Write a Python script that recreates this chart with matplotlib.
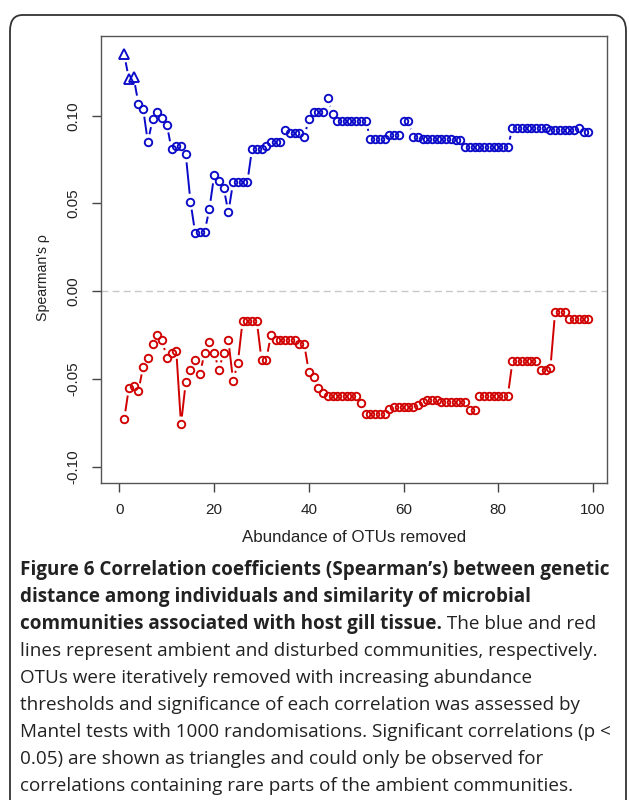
import numpy as np
import matplotlib
matplotlib.use("Agg")
import matplotlib.pyplot as plt
from matplotlib.patches import FancyBboxPatch

# --- data ---
x_removed = list(range(1, 100))

ambient = [
    0.135, 0.121, 0.122, 0.107, 0.104, 0.085, 0.098, 0.102, 0.099, 0.095,
    0.081, 0.083, 0.083, 0.078, 0.051, 0.033, 0.034, 0.034, 0.047, 0.066,
    0.063, 0.059, 0.045, 0.062, 0.062, 0.062, 0.062, 0.081, 0.081, 0.081,
    0.083, 0.085, 0.085, 0.085, 0.092, 0.090, 0.090, 0.090, 0.088, 0.098,
    0.102, 0.102, 0.102, 0.110, 0.101, 0.097, 0.097, 0.097, 0.097, 0.097,
    0.097, 0.097, 0.087, 0.087, 0.087, 0.087, 0.089, 0.089, 0.089, 0.097,
    0.097, 0.088, 0.088, 0.087, 0.087, 0.087, 0.087, 0.087, 0.087, 0.087,
    0.086, 0.086, 0.082, 0.082, 0.082, 0.082, 0.082, 0.082, 0.082, 0.082,
    0.082, 0.082, 0.093, 0.093, 0.093, 0.093, 0.093, 0.093, 0.093, 0.093,
    0.092, 0.092, 0.092, 0.092, 0.092, 0.092, 0.093, 0.091, 0.091,
]
ambient_signif = [1, 2, 3]  # p < 0.05 -> triangles

disturbed = [
    -0.073, -0.055, -0.054, -0.057, -0.043, -0.038, -0.030, -0.025, -0.028, -0.038,
    -0.035, -0.034, -0.076, -0.052, -0.045, -0.039, -0.047, -0.035, -0.029, -0.035,
    -0.045, -0.035, -0.028, -0.051, -0.041, -0.017, -0.017, -0.017, -0.017, -0.039,
    -0.039, -0.025, -0.028, -0.028, -0.028, -0.028, -0.028, -0.030, -0.030, -0.046,
    -0.049, -0.055, -0.058, -0.060, -0.060, -0.060, -0.060, -0.060, -0.060, -0.060,
    -0.064, -0.070, -0.070, -0.070, -0.070, -0.070, -0.067, -0.066, -0.066, -0.066,
    -0.066, -0.066, -0.065, -0.063, -0.062, -0.062, -0.062, -0.063, -0.063, -0.063,
    -0.063, -0.063, -0.063, -0.068, -0.068, -0.060, -0.060, -0.060, -0.060, -0.060,
    -0.060, -0.060, -0.040, -0.040, -0.040, -0.040, -0.040, -0.040, -0.045, -0.045,
    -0.044, -0.012, -0.012, -0.012, -0.016, -0.016, -0.016, -0.016, -0.016,
]

x_ticks = [0, 20, 40, 60, 80, 100]
y_ticks = [-0.10, -0.05, 0.00, 0.05, 0.10]

BLUE = "#0A0AC8"
RED = "#D00000"

fig = plt.figure(figsize=(6.29, 8.0), dpi=100)

# rounded frame around figure + caption
frame = FancyBboxPatch((10 / 629, -0.05), 616 / 629, 0.05 + 785 / 800,
                       boxstyle="round,pad=0,rounding_size=0.02",
                       transform=fig.transFigure, fill=False,
                       ec="#333333", lw=1.3)
fig.patches.append(frame)

ax = fig.add_axes([100.7 / 629, 1 - 483 / 800, 506.3 / 629, 447 / 800])
ax.set_xlim(-3.96, 102.96)
ax.set_ylim(-0.1094, 0.1455)

for s in ax.spines.values():
    s.set_color("#555555")
    s.set_linewidth(1.0)

ax.axhline(0, color="#c8c8c8", lw=1.0, ls=(0, (5, 3)), zorder=1)


def gapped_lines(ax, xs, ys, color, gap=8.0):
    """R type='b' style: segments that stop short of the points"""
    pts = ax.transData.transform(np.column_stack([xs, ys]))
    inv = ax.transData.inverted()
    segx, segy = [], []
    for p0, p1 in zip(pts[:-1], pts[1:]):
        d = p1 - p0
        L = np.hypot(*d)
        if L <= 2 * gap:
            continue
        u = d / L
        a = inv.transform(p0 + u * gap)
        b = inv.transform(p1 - u * gap)
        segx += [a[0], b[0], np.nan]
        segy += [a[1], b[1], np.nan]
    ax.plot(segx, segy, color=color, lw=1.4, solid_capstyle="butt", zorder=2)


gapped_lines(ax, x_removed, ambient, BLUE)
gapped_lines(ax, x_removed, disturbed, RED)

sig = np.isin(x_removed, ambient_signif)
xa = np.array(x_removed)
ya = np.array(ambient)
ax.plot(xa[~sig], ya[~sig], ls="none", marker="o", ms=5.4, mfc="none",
        mec=BLUE, mew=1.35, zorder=3)
ax.plot(xa[sig], ya[sig], ls="none", marker="^", ms=6.8, mfc="none",
        mec=BLUE, mew=1.35, zorder=3)
ax.plot(x_removed, disturbed, ls="none", marker="o", ms=5.4, mfc="none",
        mec=RED, mew=1.35, zorder=3)

ax.set_xticks(x_ticks)
ax.set_yticks(y_ticks)
ax.set_xticklabels([str(t) for t in x_ticks], family="Liberation Sans", fontsize=11)
ax.set_yticklabels([f"{t:.2f}" for t in y_ticks], family="Liberation Sans",
                   fontsize=11, rotation=90, va="center")
ax.tick_params(direction="out", length=6.5, width=1.0, color="#444444",
               pad=8, labelcolor="#222222")

ax.set_xlabel("Abundance of OTUs removed", family="Liberation Sans",
              fontsize=12.2, color="#222222", labelpad=9)
ax.set_ylabel("Spearman's ρ", family="Liberation Sans", fontsize=10.2,
              color="#222222")
ax.yaxis.set_label_coords(-0.10, 0.46)

# --- caption ---
cap_font = dict(family="Open Sans", fontsize=13.6, color="#222222")
x0 = 20 / 629
line_y = [1 - (570 + 27 * i) / 800 for i in range(9)]
bold_lines = [
    "Figure 6 Correlation coefficients (Spearman\u2019s) between genetic",
    "distance among individuals and similarity of microbial",
    "communities associated with host gill tissue.",
]
plain_lines = [
    "lines represent ambient and disturbed communities, respectively.",
    "OTUs were iteratively removed with increasing abundance",
    "thresholds and significance of each correlation was assessed by",
    "Mantel tests with 1000 randomisations. Significant correlations (p <",
    "0.05) are shown as triangles and could only be observed for",
    "correlations containing rare parts of the ambient communities.",
]
last_bold = None
for i, txt in enumerate(bold_lines):
    last_bold = fig.text(x0, line_y[i], txt, weight="bold", va="center", **cap_font)
ax.annotate(" The blue and red", xy=(1, 0.5), xycoords=last_bold,
            va="center", ha="left", annotation_clip=False, **cap_font)
for j, txt in enumerate(plain_lines):
    fig.text(x0, line_y[3 + j], txt, va="center", **cap_font)

fig.savefig("out.png", dpi=100)
